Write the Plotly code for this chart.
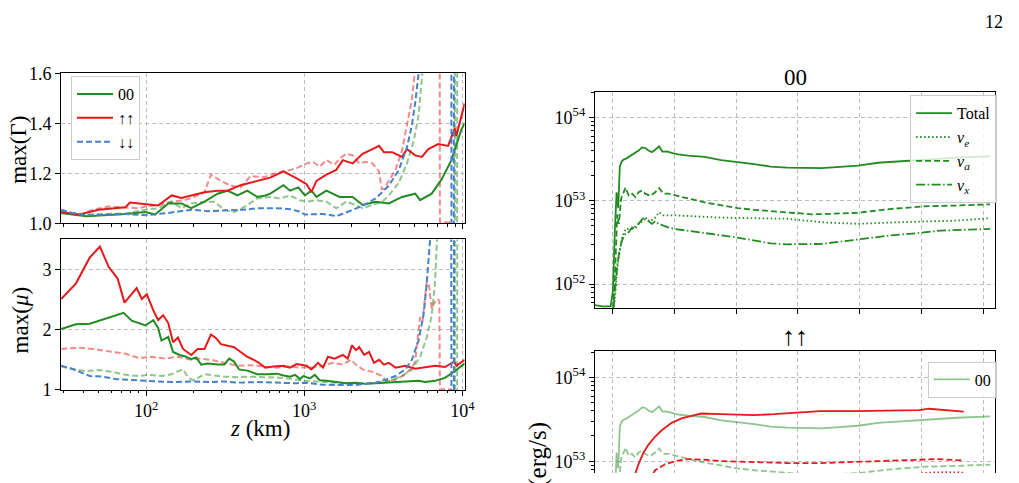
import plotly.graph_objects as go

# ---------------- data: left panels (z in km) ----------------
gamma_00_z = [29, 42, 74, 99, 114, 138, 167, 193, 234, 283, 327, 378, 436, 504, 567, 610, 739, 813, 918, 1010,
              1110, 1195, 1380, 1672, 2024, 2339, 2832, 3428, 4155, 5037, 5408, 6400, 7390, 8535, 9860, 10350]
gamma_00 = [1.042, 1.029, 1.038, 1.046, 1.036, 1.080, 1.080, 1.061, 1.087, 1.119, 1.131, 1.112, 1.131, 1.106, 1.112,
            1.119, 1.153, 1.131, 1.144, 1.112, 1.131, 1.106, 1.131, 1.106, 1.106, 1.074, 1.087, 1.080, 1.106, 1.119,
            1.093, 1.119, 1.176, 1.253, 1.375, 1.40]

gamma_uu_z = [29, 38, 50, 64, 74, 79, 99, 119, 145, 167, 193, 234, 283, 327, 396, 504, 610, 739, 813, 895,
              1035, 1110, 1195, 1380, 1593, 1753, 2024, 2339, 2699, 2972, 3192, 3597, 4155, 4467, 5037, 5546, 6097,
              7040, 8128, 8954, 9173, 10350]
gamma_uu = [1.046, 1.036, 1.055, 1.061, 1.065, 1.084, 1.076, 1.072, 1.112, 1.102, 1.112, 1.125, 1.131, 1.131, 1.153,
            1.170, 1.183, 1.208, 1.195, 1.180, 1.157, 1.125, 1.170, 1.195, 1.214, 1.253, 1.240, 1.278, 1.297, 1.310,
            1.285, 1.285, 1.266, 1.297, 1.272, 1.266, 1.297, 1.317, 1.310, 1.380, 1.349, 1.48]

gamma_dd_z = [29, 34, 42, 58, 74, 99, 138, 193, 245, 312, 416, 504, 671, 813, 918, 1010, 1315, 1518, 1593, 1928,
              2339, 2832, 3428, 3966, 4467, 4797, 5037, 5286, 5546, 8500, 8540, 8840, 8880]
gamma_dd = [1.055, 1.042, 1.033, 1.036, 1.038, 1.033, 1.042, 1.055, 1.049, 1.052, 1.055, 1.061, 1.061, 1.057, 1.049,
            1.036, 1.038, 1.032, 1.029, 1.049, 1.071, 1.100, 1.151, 1.214, 1.304, 1.393, 1.483, 1.597, 1.75, 3.0,
            0.9, 0.9, 3.0]

gamma_uu_alt_z = [29, 38, 46, 58, 74, 90, 99, 119, 145, 175, 202, 234, 257, 297, 343, 396, 457, 554, 671, 776,
                  895, 1035, 1137, 1253, 1380, 1555, 1672, 1841, 2024, 2228, 2452, 2699, 2972, 3090, 3192, 3428,
                  3777, 4155, 4467, 4797, 4990, 5160, 7150, 7215, 8535]
gamma_uu_alt = [1.042, 1.033, 1.055, 1.068, 1.064, 1.061, 1.068, 1.074, 1.087, 1.093, 1.106, 1.125, 1.195, 1.170,
                1.151, 1.144, 1.189, 1.185, 1.202, 1.210, 1.221, 1.240, 1.246, 1.227, 1.253, 1.234, 1.259, 1.278,
                1.272, 1.240, 1.246, 1.240, 1.208, 1.138, 1.138, 1.170, 1.214, 1.291, 1.393, 1.495, 1.597, 1.75,
                3.0, 1.005, 1.005]

gamma_00_alt_z = [29, 42, 74, 99, 119, 145, 167, 193, 234, 270, 312, 360, 416, 504, 610, 705, 813, 940, 1035, 1195,
                  1380, 1593, 1841, 2124, 2339, 2699, 3119, 3428, 3966, 4467, 4920, 5286, 5546, 5680, 5860, 8960,
                  9000, 9270, 9310]
gamma_00_alt = [1.046, 1.036, 1.040, 1.055, 1.061, 1.087, 1.061, 1.080, 1.087, 1.087, 1.055, 1.045, 1.065, 1.100,
                1.106, 1.100, 1.112, 1.093, 1.087, 1.093, 1.087, 1.061, 1.087, 1.074, 1.061, 1.074, 1.087, 1.112,
                1.163, 1.240, 1.329, 1.431, 1.546, 1.597, 1.75, 3.0, 0.9, 0.9, 3.0]

mu_uu_z = [29, 36, 44, 51, 58, 66, 73, 87, 94, 101, 111, 119, 128, 138, 148, 159, 171, 193, 212, 234, 257, 277,
           297, 327, 360, 396, 436, 480, 516, 567, 640, 739, 813, 895, 1035, 1110, 1223, 1315, 1413, 1555, 1753,
           1884, 2005, 2124, 2228, 2395, 2573, 2763, 2972, 3192, 3428, 3777, 4362, 5037, 5823, 6714, 7762, 8870,
           9173, 10350]
mu_uu = [2.51, 2.77, 3.20, 3.38, 3.04, 2.85, 2.45, 2.69, 2.51, 2.59, 2.32, 2.16, 2.24, 2.11, 1.79, 1.87, 1.68, 1.58,
         1.68, 1.68, 1.92, 1.86, 1.76, 1.73, 1.71, 1.63, 1.55, 1.50, 1.45, 1.37, 1.39, 1.40, 1.37, 1.43, 1.40, 1.34,
         1.45, 1.37, 1.55, 1.52, 1.58, 1.52, 1.74, 1.66, 1.71, 1.58, 1.63, 1.45, 1.50, 1.42, 1.45, 1.37, 1.40, 1.35,
         1.37, 1.40, 1.38, 1.47, 1.40, 1.50]

mu_00_z = [29, 36, 44, 50, 60, 72, 81, 99, 111, 119, 125, 138, 148, 163, 175, 193, 207, 223, 245, 283, 312, 335,
           360, 387, 436, 504, 582, 671, 739, 813, 875, 940, 986, 1085, 1166, 1253, 1380, 1593, 1841, 2124, 2452,
           2832, 3428, 4362, 5286, 5823, 6714, 7762, 8954, 10350]
mu_00 = [2.01, 2.09, 2.10, 2.15, 2.21, 2.28, 2.15, 2.07, 2.16, 2.03, 1.82, 1.88, 1.63, 1.58, 1.56, 1.51, 1.54, 1.42,
         1.44, 1.42, 1.42, 1.52, 1.47, 1.34, 1.32, 1.26, 1.26, 1.27, 1.24, 1.22, 1.25, 1.18, 1.23, 1.19, 1.25, 1.16,
         1.15, 1.13, 1.11, 1.12, 1.10, 1.11, 1.12, 1.13, 1.15, 1.13, 1.15, 1.20, 1.31, 1.44]

mu_dd_z = [29, 34, 44, 53, 64, 81, 99, 119, 145, 193, 257, 312, 378, 504, 671, 895, 1010, 1315, 1753, 2124, 2452,
           2832, 3271, 3777, 4362, 4797, 5286, 5680, 5957, 6097, 6240, 6460, 8500, 8540, 8840, 8880]
mu_dd = [1.40, 1.35, 1.23, 1.22, 1.18, 1.17, 1.15, 1.14, 1.13, 1.14, 1.13, 1.14, 1.12, 1.13, 1.12, 1.11, 1.12,
         1.085, 1.08, 1.08, 1.10, 1.12, 1.17, 1.23, 1.34, 1.50, 1.82, 2.24, 2.77, 3.14, 3.46, 4.0, 6.0, 0.5, 0.5, 6.0]

mu_uu_alt_z = [29, 38, 46, 58, 74, 90, 108, 131, 159, 193, 212, 257, 312, 378, 457, 554, 671, 813, 940, 1137, 1315,
               1518, 1753, 1977, 2124, 2339, 2699, 3119, 3271, 3777, 4362, 4797, 5037, 5236, 5408, 5597, 5957, 6160,
               6400, 6650, 6980, 7150, 7215, 8535]
mu_uu_alt = [1.68, 1.70, 1.68, 1.64, 1.60, 1.53, 1.55, 1.52, 1.55, 1.50, 1.52, 1.50, 1.45, 1.40, 1.41, 1.39, 1.37,
             1.39, 1.37, 1.37, 1.40, 1.45, 1.42, 1.50, 1.42, 1.34, 1.30, 1.23, 1.15, 1.17, 1.26, 1.37, 1.47, 1.90,
             2.21, 2.13, 2.80, 2.72, 2.35, 2.45, 2.51, 2.48, 1.01, 1.01]

mu_00_alt_z = [29, 34, 42, 50, 61, 74, 90, 103, 125, 145, 159, 171, 184, 198, 212, 234, 270, 312, 378, 457, 567,
               739, 1010, 1315, 1672, 2124, 2699, 3428, 4155, 4797, 5408, 5957, 6400, 6714, 6880, 7040, 8960, 9000,
               9270, 9310]
mu_00_alt = [1.39, 1.35, 1.31, 1.33, 1.30, 1.25, 1.23, 1.25, 1.23, 1.26, 1.31, 1.34, 1.21, 1.16, 1.20, 1.26, 1.24,
             1.22, 1.21, 1.22, 1.21, 1.20, 1.15, 1.13, 1.12, 1.10, 1.12, 1.15, 1.23, 1.34, 1.55, 1.87, 2.24, 2.77,
             3.36, 4.0, 6.0, 0.5, 0.5, 6.0]

# ---------------- data: right panels (t, luminosity in erg/s) ----------------
t_tot_00 = [-1.41, -0.80, -0.13, 0.05, 0.21, 0.35, 0.48, 0.61, 0.75, 0.91, 1.12, 1.33, 1.60, 1.87, 2.13, 2.40, 2.67,
            2.93, 3.20, 3.47, 3.79, 4.05, 4.40, 4.80, 5.33, 6.13, 7.47, 8.80, 10.13, 11.47, 12.80, 14.13, 16.93,
            18.53, 19.87, 21.47, 23.33, 25.20, 27.87, 30.53]
L_tot_00 = [5.6e51, 5.4e51, 5.4e51, 8.2e51, 4.4e52, 1.27e53, 8.2e52, 2.58e53, 2.95e53, 3.13e53, 3.22e53, 3.37e53,
            3.61e53, 3.85e53, 4.02e53, 4.39e53, 4.32e53, 4.02e53, 3.85e53, 4.12e53, 4.51e53, 3.91e53, 3.94e53,
            3.78e53, 3.61e53, 3.49e53, 3.37e53, 3.08e53, 2.95e53, 2.77e53, 2.58e53, 2.51e53, 2.47e53, 2.54e53,
            2.65e53, 2.87e53, 3.0e53, 3.13e53, 3.30e53, 3.43e53]

t_nue_00 = [-1.41, 0.05, 0.27, 0.43, 0.59, 0.80, 1.07, 1.60, 2.13, 2.67, 3.07, 3.47, 3.79, 4.13, 5.07, 6.13, 8.80,
            11.47, 14.13, 17.20, 19.87, 22.53, 25.20, 27.87, 30.53]
L_nue_00 = [3.0e51, 4.0e51, 8.2e51, 1.66e52, 2.37e52, 3.69e52, 4.6e52, 4.6e52, 5.3e52, 6.0e52, 5.7e52, 6.3e52,
            7.3e52, 6.7e52, 6.7e52, 6.6e52, 6.3e52, 6.2e52, 6.1e52, 5.5e52, 5.3e52, 5.5e52, 5.6e52, 5.8e52, 6.2e52]

t_nua_00 = [-1.41, 0.05, 0.21, 0.40, 0.53, 0.72, 0.88, 1.07, 1.33, 1.60, 1.87, 2.13, 2.40, 2.67, 3.07, 3.47, 3.79,
            4.13, 4.53, 5.07, 6.13, 7.47, 8.80, 10.13, 11.47, 12.80, 14.13, 16.13, 17.73, 19.87, 22.53, 25.20,
            27.87, 30.53]
L_nua_00 = [3.0e51, 4.8e51, 1.17e52, 6.9e52, 5.3e52, 1.07e53, 1.22e53, 1.45e53, 1.16e53, 1.22e53, 1.11e53, 1.27e53,
            1.33e53, 1.22e53, 1.15e53, 1.27e53, 1.42e53, 1.22e53, 1.22e53, 1.16e53, 1.07e53, 9.6e52, 8.8e52, 8.2e52,
            7.8e52, 7.5e52, 7.3e52, 6.9e52, 7.0e52, 7.2e52, 8.0e52, 8.6e52, 8.8e52, 9.1e52]

t_nux_00 = [-1.41, 0.05, 0.21, 0.40, 0.59, 0.80, 1.07, 1.33, 1.60, 1.87, 2.13, 2.40, 2.67, 2.93, 3.20, 3.47, 3.73,
            4.13, 4.53, 5.07, 6.13, 7.47, 8.80, 10.13, 11.47, 12.80, 14.13, 16.93, 19.87, 22.53, 24.67, 26.53,
            28.40, 30.53]
L_nux_00 = [3.0e51, 4.0e51, 8.2e51, 1.66e52, 2.59e52, 3.38e52, 4.03e52, 4.2e52, 4.8e52, 4.6e52, 5.3e52, 6.0e52,
            6.4e52, 5.7e52, 5.3e52, 5.7e52, 5.3e52, 5.0e52, 4.8e52, 4.6e52, 4.4e52, 4.1e52, 3.86e52, 3.62e52,
            3.32e52, 3.09e52, 3.01e52, 3.04e52, 3.44e52, 3.86e52, 4.1e52, 4.4e52, 4.5e52, 4.6e52]

t_tot_uu = [0.8, 1.5, 1.87, 2.13, 2.53, 2.93, 3.47, 4.00, 4.80, 5.60, 6.40, 7.20, 8.80, 11.47, 13.07, 15.47, 16.80,
            19.47, 22.13, 24.80, 25.60, 26.93, 28.40]
L_tot_uu = [2.0e52, 5.5e52, 7.2e52, 9.3e52, 1.27e53, 1.58e53, 1.97e53, 2.34e53, 2.87e53, 3.24e53, 3.48e53, 3.71e53,
            3.64e53, 3.55e53, 3.64e53, 3.80e53, 3.97e53, 3.97e53, 4.05e53, 4.08e53, 4.23e53, 4.08e53, 3.91e53]

t_nua_uu = [2.0, 2.8, 3.47, 4.27, 5.07, 6.13, 7.47, 8.80, 11.47, 14.13, 16.80, 19.47, 22.13, 24.80, 26.13, 28.40]
L_nua_uu = [3.0e52, 5.5e52, 7.8e52, 9.2e52, 1.0e53, 1.06e53, 1.04e53, 1.0e53, 9.75e52, 9.5e52, 9.5e52, 9.75e52,
            9.95e52, 1.04e53, 1.06e53, 1.02e53]

t_nue_uu = [2.0, 5.0, 10.0, 15.0, 20.0, 24.0, 25.6, 27.0, 28.4]
L_nue_uu = [2.0e52, 5.5e52, 6.0e52, 6.2e52, 6.5e52, 6.9e52, 7.3e52, 7.4e52, 7.3e52]

# ---------------- tick labels ----------------
z_major = [100, 1000, 10000]
z_major_text = ["10<sup>2</sup>", "10<sup>3</sup>", "10<sup>4</sup>"]
z_minor = [30, 40, 50, 60, 70, 80, 90, 200, 300, 400, 500, 600, 700, 800, 900,
           2000, 3000, 4000, 5000, 6000, 7000, 8000, 9000]
gamma_ticks = [1.0, 1.2, 1.4, 1.6]
gamma_text = ["1.0", "1.2", "1.4", "1.6"]
mu_ticks = [1, 2, 3]
mu_text = ["1", "2", "3"]
t_ticks = [0, 5, 10, 15, 20, 25, 30]
L_major = [1e52, 1e53, 1e54]
L_major_text = ["10<sup>52</sup>", "10<sup>53</sup>", "10<sup>54</sup>"]
L_minor = [float(m) * 10.0 ** e for e in (51, 52, 53) for m in range(2, 10)] + [2e54]

# ---------------- styling ----------------
W, H = 1019, 483
GREEN = "#228B22"
GREEN_L = "rgba(34,139,34,0.5)"
RED = "#e41a1c"
RED_L = "rgba(228,26,28,0.5)"
BLUE = "#4682c8"
FONT = "'Liberation Serif', 'DejaVu Serif', serif"
DASH = "6px,3px"
DOT = "1.5px,2.5px"
DASHDOT = "9px,2.5px,1.5px,2.5px"


def fx(p):
    return p / W


def fy(p):
    return 1 - p / H


fig = go.Figure()


def line(x, y, xa, ya, color, dash="solid", width=2, name=None, legend=None):
    fig.add_trace(go.Scatter(
        x=x, y=y, xaxis=xa, yaxis=ya, mode="lines", name=name,
        line=dict(color=color, dash=dash, width=width),
        showlegend=legend is not None, legend=legend if legend else "legend",
        hoverinfo="skip"))


# left top: max(Gamma)
line(gamma_uu_alt_z, gamma_uu_alt, "x", "y", RED_L, DASH)
line(gamma_00_alt_z, gamma_00_alt, "x", "y", GREEN_L, DASH)
line(gamma_00_z, gamma_00, "x", "y", GREEN, name="00", legend="legend")
line(gamma_uu_z, gamma_uu, "x", "y", RED, name="↑↑", legend="legend")
line(gamma_dd_z, gamma_dd, "x", "y", BLUE, DASH, name="↓↓", legend="legend")
# left bottom: max(mu)
line(mu_uu_alt_z, mu_uu_alt, "x2", "y2", RED_L, DASH)
line(mu_00_alt_z, mu_00_alt, "x2", "y2", GREEN_L, DASH)
line(mu_00_z, mu_00, "x2", "y2", GREEN)
line(mu_uu_z, mu_uu, "x2", "y2", RED)
line(mu_dd_z, mu_dd, "x2", "y2", BLUE, DASH)
# right top: 00
line(t_tot_00, L_tot_00, "x3", "y3", GREEN, width=1.8, name="Total", legend="legend2")
line(t_nue_00, L_nue_00, "x3", "y3", GREEN, DOT, width=1.8, name="<i>ν<sub>e</sub></i>", legend="legend2")
line(t_nua_00, L_nua_00, "x3", "y3", GREEN, DASH, width=1.8, name="<i>ν<sub>a</sub></i>", legend="legend2")
line(t_nux_00, L_nux_00, "x3", "y3", GREEN, DASHDOT, width=1.8, name="<i>ν<sub>x</sub></i>", legend="legend2")
# right bottom: up-up
line(t_tot_00, L_tot_00, "x4", "y4", GREEN_L, width=1.8, name="00", legend="legend3")
line(t_nua_00, L_nua_00, "x4", "y4", GREEN_L, DASH, width=1.8)
line(t_tot_uu, L_tot_uu, "x4", "y4", RED, width=1.8)
line(t_nua_uu, L_nua_uu, "x4", "y4", RED, DASH, width=1.8)
line(t_nue_uu, L_nue_uu, "x4", "y4", RED, DOT, width=1.8)

tickfont = dict(family=FONT, size=18, color="black")
grid = dict(showgrid=True, gridcolor="#bdbdbd", griddash="4px,3px", gridwidth=0.8, zeroline=False)
frame = dict(showline=True, linecolor="black", linewidth=1, mirror=True)
tk = dict(ticks="outside", ticklen=5, tickwidth=1, tickcolor="black", tickfont=tickfont)

xl_dom = [fx(61.7), fx(469.3)]
xr_dom = [fx(600.7), fx(1005)]
zrange = [1.462, 4.015]

legend_common = dict(bgcolor="rgba(255,255,255,0.8)", bordercolor="#cccccc", borderwidth=1,
                     font=dict(family=FONT, size=16, color="black"), yanchor="top", itemwidth=36)

fig.update_layout(
    width=W, height=H, margin=dict(l=0, r=0, t=0, b=0), autosize=False,
    paper_bgcolor="white", plot_bgcolor="white",
    xaxis=dict(domain=xl_dom, anchor="y", type="log", range=zrange, tickmode="array", tickvals=z_major,
               showticklabels=False,
               minor=dict(tickmode="array", tickvals=z_minor, ticks="outside", ticklen=2.5, tickcolor="black",
                          showgrid=False), **grid, **frame, **tk),
    yaxis=dict(domain=[fy(222.7), fy(66)], anchor="x", range=[1.0, 1.6], tickmode="array",
               tickvals=gamma_ticks, ticktext=gamma_text, **grid, **frame, **tk),
    xaxis2=dict(domain=xl_dom, anchor="y2", type="log", range=zrange, tickmode="array", tickvals=z_major,
                ticktext=z_major_text,
                minor=dict(tickmode="array", tickvals=z_minor, ticks="outside", ticklen=2.5, tickcolor="black",
                           showgrid=False), **grid, **frame, **tk),
    yaxis2=dict(domain=[fy(396.3), fy(239.3)], anchor="x2", range=[1.0, 3.5], tickmode="array",
                tickvals=mu_ticks, ticktext=mu_text, **grid, **frame, **tk),
    xaxis3=dict(domain=xr_dom, anchor="y3", range=[-1.41, 30.94], tickmode="array", tickvals=t_ticks,
                showticklabels=False, **grid, **frame, **tk),
    yaxis3=dict(domain=[fy(311), fy(85.7)], anchor="x3", type="log", range=[51.712, 54.306], tickmode="array",
                tickvals=L_major, ticktext=L_major_text,
                minor=dict(tickmode="array", tickvals=L_minor, ticks="outside", ticklen=2.5, tickcolor="black",
                           showgrid=False), **grid, **frame, **tk),
    xaxis4=dict(domain=xr_dom, anchor="y4", range=[-1.41, 30.94], tickmode="array", tickvals=t_ticks,
                showticklabels=False, side="top", showline=True, linecolor="black", linewidth=1, mirror=False,
                ticks="", **grid),
    yaxis4=dict(domain=[0, fy(355.7)], anchor="x4", type="log", range=[52.859, 54.316], tickmode="array",
                tickvals=L_major, ticktext=L_major_text,
                minor=dict(tickmode="array", tickvals=L_minor, ticks="outside", ticklen=2.5, tickcolor="black",
                           showgrid=False), **grid, **frame, **tk),
    legend=dict(x=fx(71.7), y=fy(69), xanchor="left", **legend_common),
    legend2=dict(x=fx(1007), y=fy(89), xanchor="right", **legend_common),
    legend3=dict(x=fx(1006.7), y=fy(366.7), xanchor="right", **legend_common),
)

ann_font = dict(family=FONT, size=23, color="black")
annotations = [
    dict(text="max(Γ)", x=fx(19), y=fy(146), textangle=-90),
    dict(text="max(<i>μ</i>)", x=fx(21), y=fy(324), textangle=-90),
    dict(text="<i>z</i> (km)", x=fx(263), y=fy(437)),
    dict(text="00", x=fx(803), y=fy(70)),
    dict(text="↑↑", x=fx(803), y=fy(341), font=dict(family=FONT, size=26, color="black")),
    dict(text="<i>L</i> (erg/s)", x=fx(544), y=fy(428), textangle=-90, yanchor="top",
         font=dict(family=FONT, size=25, color="black")),
    dict(text="12", x=fx(1004), y=fy(13), font=dict(family=FONT, size=18, color="black")),
]
for a in annotations:
    a.setdefault("xanchor", "center")
    a.setdefault("yanchor", "middle")
    a.setdefault("font", ann_font)
    fig.add_annotation(xref="paper", yref="paper", showarrow=False, **a)

fig.write_html("out.html")
